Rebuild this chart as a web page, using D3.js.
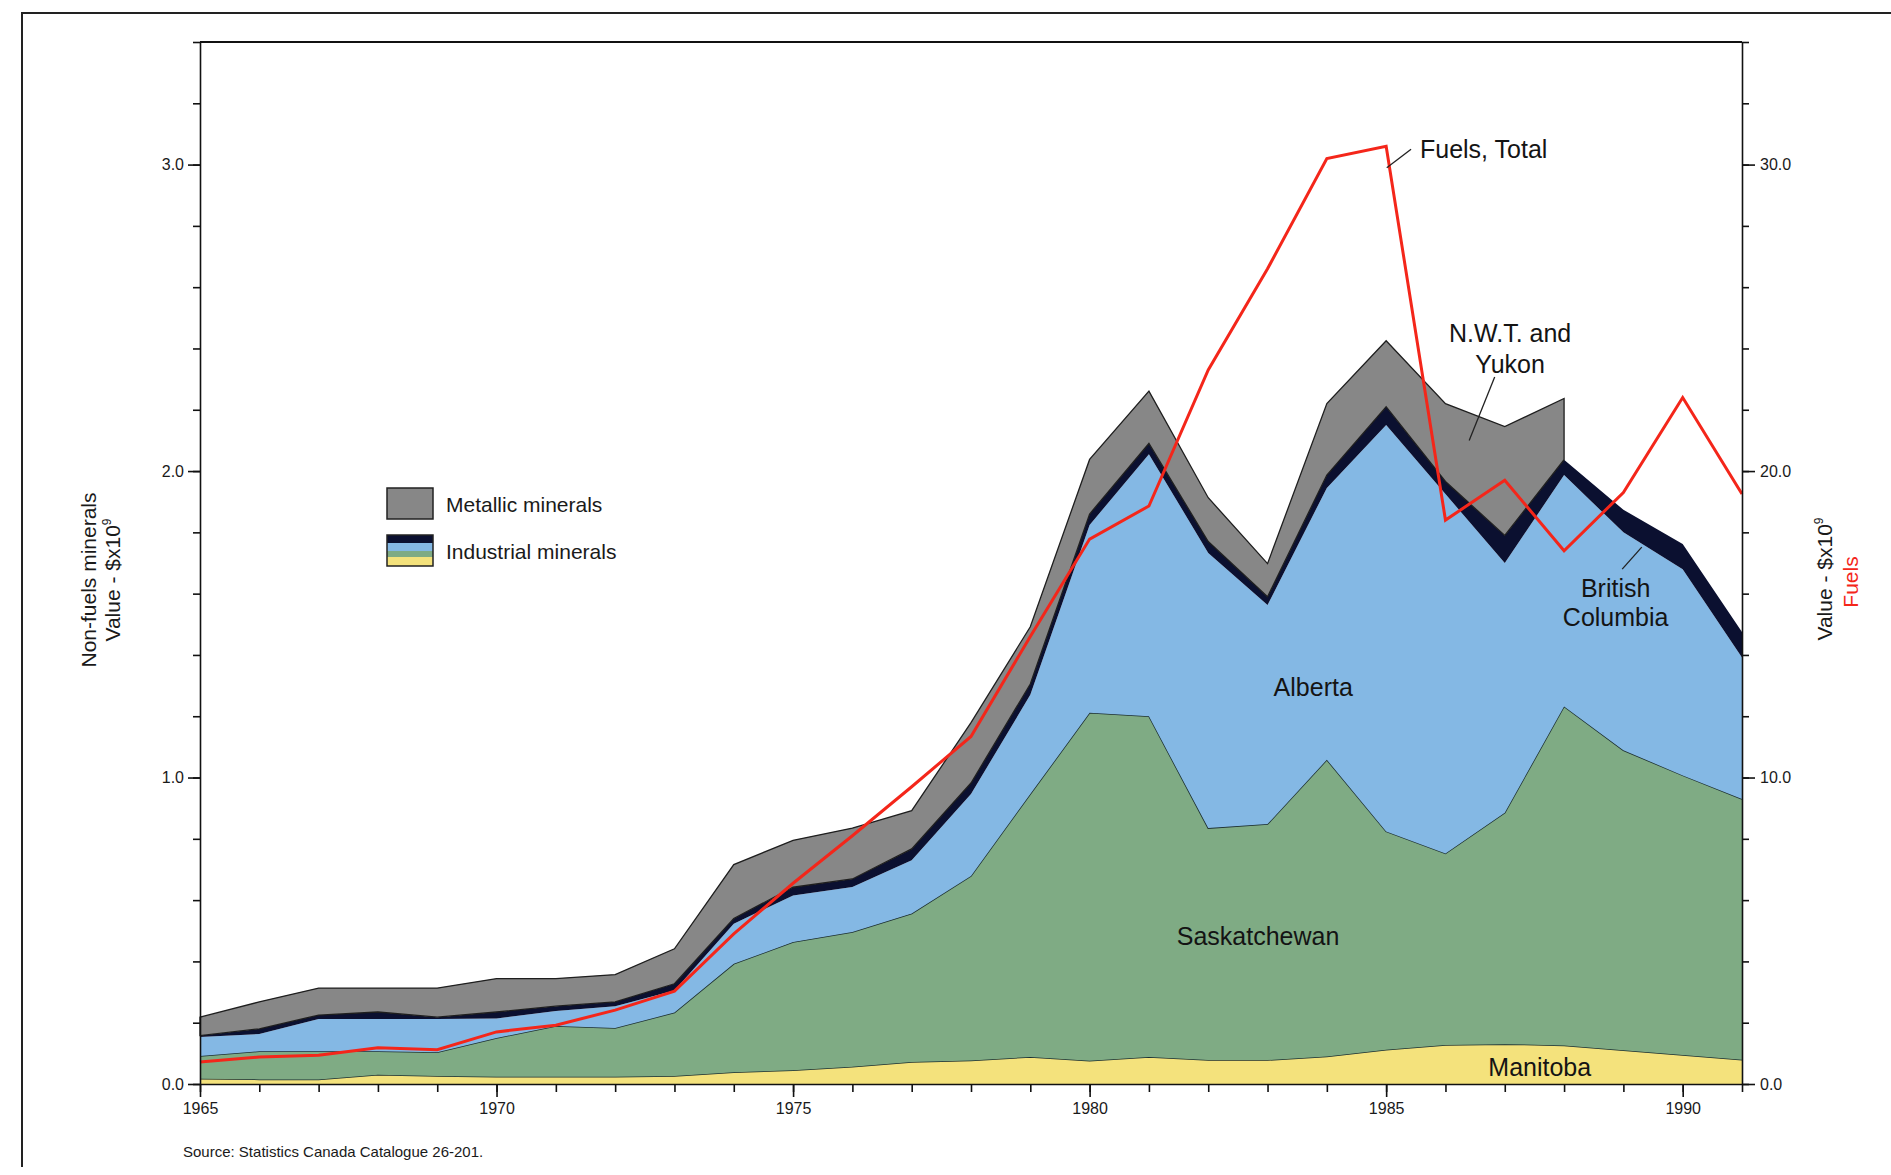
<!DOCTYPE html>
<html>
<head>
<meta charset="utf-8">
<script src="https://cdnjs.cloudflare.com/ajax/libs/d3/7.8.5/d3.min.js"></script>
<style>
body { margin: 0; background: #fff; }
svg { display: block; font-family: "Liberation Sans", Arial, sans-serif; }
</style>
</head>
<body>
<script>
// Data ($ x 10^9)
const years = [1965, 1966, 1967, 1968, 1969, 1970, 1971, 1972, 1973, 1974, 1975, 1976, 1977, 1978,
  1979, 1980, 1981, 1982, 1983, 1984, 1985, 1986, 1987, 1988, 1989, 1990, 1991]
const manitoba = [0.017, 0.015, 0.015, 0.030, 0.026, 0.024, 0.024, 0.024, 0.026, 0.038, 0.045, 0.056, 0.072, 0.077,
  0.088, 0.076, 0.088, 0.078, 0.078, 0.090, 0.112, 0.127, 0.130, 0.126, 0.110, 0.095, 0.079]
const saskatchewan = [0.074, 0.092, 0.092, 0.077, 0.078, 0.126, 0.165, 0.159, 0.207, 0.354, 0.418, 0.440, 0.484, 0.602,
  0.858, 1.135, 1.112, 0.757, 0.770, 0.968, 0.712, 0.625, 0.755, 1.106, 0.979, 0.912, 0.851]
const alberta = [0.062, 0.056, 0.105, 0.105, 0.108, 0.064, 0.049, 0.071, 0.072, 0.131, 0.152, 0.147, 0.174, 0.267,
  0.324, 0.613, 0.855, 0.898, 0.715, 0.887, 1.326, 1.173, 0.815, 0.755, 0.711, 0.673, 0.462]
const britishColumbia = [0.005, 0.017, 0.013, 0.023, 0.006, 0.021, 0.016, 0.014, 0.022, 0.017, 0.027, 0.026, 0.037, 0.036,
  0.035, 0.036, 0.035, 0.037, 0.027, 0.042, 0.060, 0.041, 0.090, 0.050, 0.074, 0.082, 0.083]
const nwtYukon = [0.060, 0.088, 0.088, 0.078, 0.095, 0.109, 0.090, 0.089, 0.114, 0.176, 0.153, 0.166, 0.125, 0.197,
  0.187, 0.178, 0.171, 0.143, 0.108, 0.233, 0.215, 0.254, 0.355, 0.200, null, null, null]
const fuelsTotal = [0.72, 0.88, 0.94, 1.18, 1.12, 1.70, 1.92, 2.41, 3.03, 4.9, 6.55, 8.1, 9.7, 11.34,
  14.6, 17.78, 18.86, 23.3, 26.6, 30.2, 30.6, 18.4, 19.7, 17.4, 19.3, 22.4, 19.25]

const labelYears = [1965, 1970, 1975, 1980, 1985, 1990]
const leftTicks = [0, 1, 2, 3]
const rightTicks = [0, 10, 20, 30]

const keys = ['manitoba', 'saskatchewan', 'alberta', 'britishColumbia', 'nwtYukon']
const colors = {
  manitoba: '#f4e27c',
  saskatchewan: '#7fab84',
  alberta: '#84b8e4',
  britishColumbia: '#0b1030',
  nwtYukon: '#878787'
}
const red = '#f4261a'

const rows = years.map((yr, i) => ({
  year: yr,
  manitoba: manitoba[i],
  saskatchewan: saskatchewan[i],
  alberta: alberta[i],
  britishColumbia: britishColumbia[i],
  nwtYukon: nwtYukon[i] === null ? 0 : nwtYukon[i]
}))

// Svg
const width = 1891
const height = 1175
const svg = d3.select('body').append('svg')
  .attr('width', width)
  .attr('height', height)

// Scales
const x = d3.scaleLinear().domain([1965, 1991]).range([200, 1742])
const y = d3.scaleLinear().domain([0, 3.4]).range([1084, 42])
const y2 = d3.scaleLinear().domain([0, 34]).range([1084, 42])

// Outer frame (top + left)
svg.append('path')
  .attr('d', `M22,1167 L22,13 L${width},13`)
  .attr('fill', 'none')
  .attr('stroke', '#222')
  .attr('stroke-width', 2)

// Stacked areas
const series = d3.stack().keys(keys)(rows)
const area = d3.area()
  .x(d => x(d.data.year))
  .y0(d => y(d[0]))
  .y1(d => y(d[1]))

const lineTop = d3.line()
  .x(d => x(d.data.year))
  .y(d => y(d[1]))

series.forEach(s => {
  const isMetal = s.key === 'nwtYukon'
  const a = area.defined((d, i) => !isMetal || nwtYukon[i] !== null)
  svg.append('path')
    .datum(s)
    .attr('d', a)
    .attr('fill', colors[s.key])
    .attr('stroke', isMetal ? '#1e1e1e' : 'none')
    .attr('stroke-width', 1.3)
    .attr('stroke-linejoin', 'miter')
  if (s.key === 'manitoba' || s.key === 'saskatchewan') {
    svg.append('path')
      .datum(s)
      .attr('d', lineTop)
      .attr('fill', 'none')
      .attr('stroke', '#1c2f30')
      .attr('stroke-width', 1.5)
  }
})
area.defined(() => true)

// Fuels line (right axis)
const fuelLine = d3.line()
  .x((d, i) => x(years[i]))
  .y(d => y2(d))

svg.append('path')
  .datum(fuelsTotal)
  .attr('d', fuelLine)
  .attr('fill', 'none')
  .attr('stroke', red)
  .attr('stroke-width', 3)
  .attr('stroke-linejoin', 'miter')

// Axes
const styleAxis = g => {
  g.selectAll('.domain').attr('stroke', '#111').attr('stroke-width', 1.6)
  g.selectAll('.tick line').attr('stroke', '#111').attr('stroke-width', 1.6)
  g.selectAll('.tick text')
    .attr('fill', '#1a1a1a')
    .style('font-size', '16px')
    .style('font-family', '"Liberation Sans", Arial, sans-serif')
}

// bottom
svg.append('g')
  .attr('transform', `translate(0,${y(0)})`)
  .call(d3.axisBottom(x).tickValues(years).tickSize(8).tickSizeOuter(0).tickFormat(''))
  .call(styleAxis)
svg.append('g')
  .attr('transform', `translate(0,${y(0)})`)
  .call(d3.axisBottom(x).tickValues(labelYears).tickSize(13).tickPadding(6).tickFormat(d3.format('d')))
  .call(g => g.select('.domain').remove())
  .call(styleAxis)

// left
svg.append('g')
  .attr('transform', `translate(${x(1965)},0)`)
  .call(d3.axisLeft(y).tickValues(y.ticks(17)).tickSize(7).tickSizeOuter(0).tickFormat(''))
  .call(styleAxis)
svg.append('g')
  .attr('transform', `translate(${x(1965)},0)`)
  .call(d3.axisLeft(y).tickValues(leftTicks).tickSize(12).tickPadding(4).tickFormat(d3.format('.1f')))
  .call(g => g.select('.domain').remove())
  .call(styleAxis)

// right
svg.append('g')
  .attr('transform', `translate(${x(1991)},0)`)
  .call(d3.axisRight(y2).tickValues(y2.ticks(17)).tickSize(7).tickSizeOuter(0).tickFormat(''))
  .call(styleAxis)
svg.append('g')
  .attr('transform', `translate(${x(1991)},0)`)
  .call(d3.axisRight(y2).tickValues(rightTicks).tickSize(13).tickPadding(5).tickFormat(d3.format('.1f')))
  .call(g => g.select('.domain').remove())
  .call(styleAxis)

// top border of plot
svg.append('line')
  .attr('x1', x(1965)).attr('x2', x(1991))
  .attr('y1', y(3.4)).attr('y2', y(3.4))
  .attr('stroke', '#111')
  .attr('stroke-width', 1.8)

// Axis titles
const leftTitle = svg.append('g').attr('font-size', 21).attr('fill', '#1a1a1a')
leftTitle.append('text')
  .attr('transform', 'translate(96,580) rotate(-90)')
  .attr('text-anchor', 'middle')
  .text('Non-fuels minerals')
const lv = leftTitle.append('text')
  .attr('transform', 'translate(120,580) rotate(-90)')
  .attr('text-anchor', 'middle')
lv.append('tspan').text('Value - $x10')
lv.append('tspan').attr('font-size', 12).attr('dy', -9).text('9')

const rv = svg.append('text')
  .attr('transform', 'translate(1832,579) rotate(-90)')
  .attr('text-anchor', 'middle')
  .attr('font-size', 21)
  .attr('fill', '#1a1a1a')
rv.append('tspan').text('Value - $x10')
rv.append('tspan').attr('font-size', 12).attr('dy', -9).text('9')
svg.append('text')
  .attr('transform', 'translate(1858,582) rotate(-90)')
  .attr('text-anchor', 'middle')
  .attr('font-size', 21)
  .attr('fill', red)
  .text('Fuels')

// Legend
const defs = svg.append('defs')
const grad = defs.append('linearGradient')
  .attr('id', 'indGrad')
  .attr('x1', 0).attr('x2', 0).attr('y1', 0).attr('y2', 1)
const gradStops = [
  [0, colors.britishColumbia], [0.26, colors.britishColumbia],
  [0.26, colors.alberta], [0.5, colors.alberta],
  [0.5, colors.saskatchewan], [0.72, colors.saskatchewan],
  [0.72, colors.manitoba], [1, colors.manitoba]
]
gradStops.forEach(([o, c]) => grad.append('stop').attr('offset', o).attr('stop-color', c))

const legend = svg.append('g').attr('transform', 'translate(387,488)')
legend.append('rect')
  .attr('width', 46).attr('height', 31)
  .attr('fill', colors.nwtYukon)
  .attr('stroke', '#222').attr('stroke-width', 1.5)
legend.append('text')
  .attr('x', 59).attr('y', 24)
  .attr('font-size', 21).attr('fill', '#1a1a1a')
  .text('Metallic minerals')
legend.append('rect')
  .attr('y', 47)
  .attr('width', 46).attr('height', 31)
  .attr('fill', 'url(#indGrad)')
  .attr('stroke', '#222').attr('stroke-width', 1.5)
legend.append('text')
  .attr('x', 59).attr('y', 71)
  .attr('font-size', 21).attr('fill', '#1a1a1a')
  .text('Industrial minerals')

// Region labels (positions in data space)
const labels = [
  { text: 'Fuels, Total', year: 1985.57, val: 3.02, anchor: 'start' },
  { text: 'N.W.T. and', year: 1987.09, val: 2.42, anchor: 'middle' },
  { text: 'Yukon', year: 1987.09, val: 2.32, anchor: 'middle' },
  { text: 'British', year: 1988.87, val: 1.59, anchor: 'middle' },
  { text: 'Columbia', year: 1988.87, val: 1.494, anchor: 'middle' },
  { text: 'Alberta', year: 1983.77, val: 1.266, anchor: 'middle' },
  { text: 'Saskatchewan', year: 1982.84, val: 0.4535, anchor: 'middle' },
  { text: 'Manitoba', year: 1987.59, val: 0.026, anchor: 'middle' }
]
svg.append('g')
  .selectAll('text')
  .data(labels)
  .join('text')
  .attr('x', d => x(d.year))
  .attr('y', d => y(d.val))
  .attr('text-anchor', d => d.anchor)
  .attr('font-size', 25)
  .attr('fill', '#141414')
  .text(d => d.text)

const leaders = [
  [[1985.01, 2.99], [1985.42, 3.05]],
  [[1986.83, 2.307], [1986.40, 2.10]],
  [[1989.31, 1.752], [1988.98, 1.68]]
]
svg.append('g')
  .selectAll('line')
  .data(leaders)
  .join('line')
  .attr('x1', d => x(d[0][0])).attr('y1', d => y(d[0][1]))
  .attr('x2', d => x(d[1][0])).attr('y2', d => y(d[1][1]))
  .attr('stroke', '#222')
  .attr('stroke-width', 1.3)

// Source
svg.append('text')
  .attr('x', 183).attr('y', 1157)
  .attr('font-size', 15)
  .attr('fill', '#1a1a1a')
  .text('Source: Statistics Canada Catalogue 26-201.')
</script>
</body>
</html>
